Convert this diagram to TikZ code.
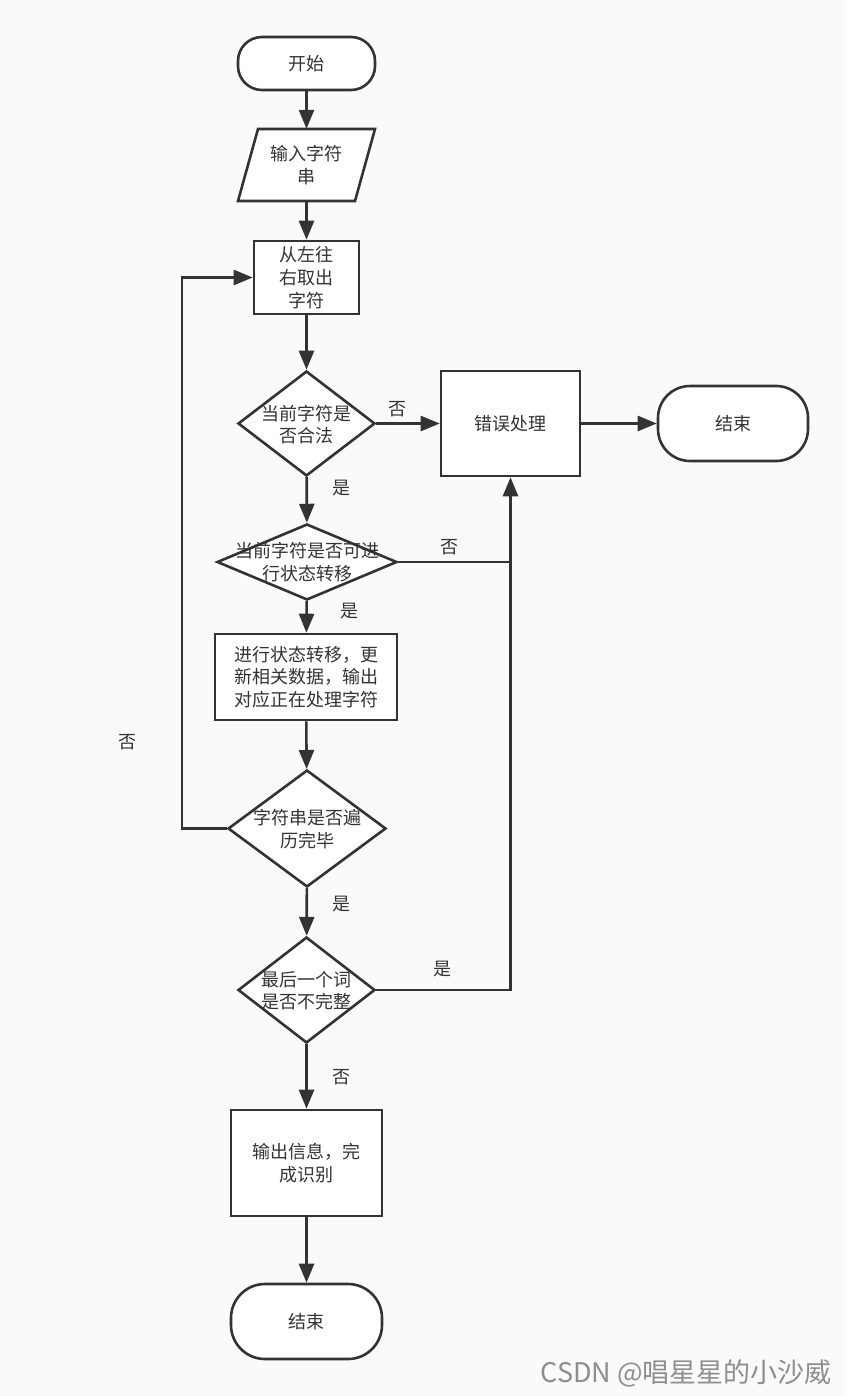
\documentclass[tikz,border=0pt]{standalone}
\usepackage{fontspec}
\setmainfont{Noto Sans CJK SC}
\usetikzlibrary{arrows.meta,shapes.geometric}
\definecolor{ln}{HTML}{333333}
\definecolor{bg}{HTML}{FAFAFA}
\definecolor{wm}{HTML}{8E8E8E}
\begin{document}
\begin{tikzpicture}[x=1pt,y=-1pt,
  every node/.style={font=\fontsize{18}{22.5}\selectfont, text=ln},
  box/.style={draw=ln, line width=2.6pt, fill=white, inner sep=0pt, align=center},
  term/.style={box, rounded corners=#1},
  dia/.style={diamond, draw=ln, line width=2.6pt, fill=white, inner sep=0pt},
  txt/.style={align=center, inner sep=0pt},
  lab/.style={inner sep=0pt},
  arr/.style={draw=ln, line width=2.6pt, -{Triangle[length=19pt,width=15pt]}},
  plain/.style={draw=ln, line width=2.6pt}
]
\useasboundingbox (0,0) rectangle (846,1396);
\fill[bg] (0,0) rectangle (846,1396);

% nodes
\node[term=24pt, minimum width=137pt, minimum height=53pt] (start) at (306.5,63.5) {开始};

\fill[white] (258,129) -- (375,129) -- (355,201) -- (238,201) -- cycle;
\draw[ln, line width=2.6pt, line join=miter] (258,129) -- (375,129) -- (355,201) -- (238,201) -- cycle;
\node[txt, minimum width=117pt, minimum height=72pt] (input) at (306.5,165) {输入字符\\串};

\node[box, minimum width=105pt, minimum height=73pt, font=\fontsize{18}{23}\selectfont] (take) at (306.5,277.5) {从左往\\右取出\\字符};

\node[dia, minimum width=137pt, minimum height=105pt] (d1) at (306.5,423.5) {};
\node[txt] (d1t) at (306.5,424.5) {当前字符是\\否合法};

\node[box, minimum width=139pt, minimum height=105pt] (err) at (510.5,423.5) {错误处理};
\node[term=32pt, minimum width=150pt, minimum height=75pt] (endr) at (733,423.5) {结束};

\node[dia, minimum width=180pt, minimum height=76pt] (d2) at (307,562) {};
\node[txt] (d2t) at (307,562) {当前字符是否可进\\行状态转移};

\node[box, minimum width=182pt, minimum height=86pt] (proc) at (306,677) {进行状态转移，更\\新相关数据，输出\\对应正在处理字符};

\node[dia, minimum width=158pt, minimum height=117pt] (d3) at (307,828.5) {};
\node[txt] (d3t) at (307,829) {字符串是否遍\\历完毕};

\node[dia, minimum width=137pt, minimum height=106pt] (d4) at (306.5,990) {};
\node[txt] (d4t) at (306.5,990.5) {最后一个词\\是否不完整};

\node[box, minimum width=151pt, minimum height=106pt] (out) at (306.5,1163) {输出信息，完\\成识别};
\node[term=34pt, minimum width=151pt, minimum height=75pt] (endb) at (306.5,1321.5) {结束};

% connectors
\draw[arr] (start) -- (input);
\draw[arr] (input) -- (take);
\draw[arr] (take) -- (d1);
\draw[arr] (d1) -- (err);
\draw[arr] (err) -- (endr);
\draw[arr] (d1) -- (d2);
\draw[arr] (d2) -- (proc);
\draw[arr] (proc) -- (d3);
\draw[arr] (d3) -- (d4);
\draw[arr] (d4) -- (out);
\draw[arr] (out) -- (endb);
\coordinate (lp) at (182,0);
\draw[arr] (d3.west) -| (lp |- take.west) -- (take.west);
\draw[plain] (d2.east) -- (d2.east -| err.south);
\draw[arr] (d4.east) -| (err.south);

% labels
\node[lab] (l1) at (397,409) {否};
\node[lab] (l2) at (341,488) {是};
\node[lab] (l3) at (449,547) {否};
\node[lab] (l4) at (349,611) {是};
\node[lab] (l5) at (127,742) {否};
\node[lab] (l6) at (341,904) {是};
\node[lab] (l7) at (442,969) {是};
\node[lab] (l8) at (341,1077) {否};

% watermark
\node[anchor=east, inner sep=0pt, text=wm, font=\fontsize{27}{30}\selectfont] (wmk) at (832,1373) {CSDN @唱星星的小沙威};
\end{tikzpicture}
\end{document}
